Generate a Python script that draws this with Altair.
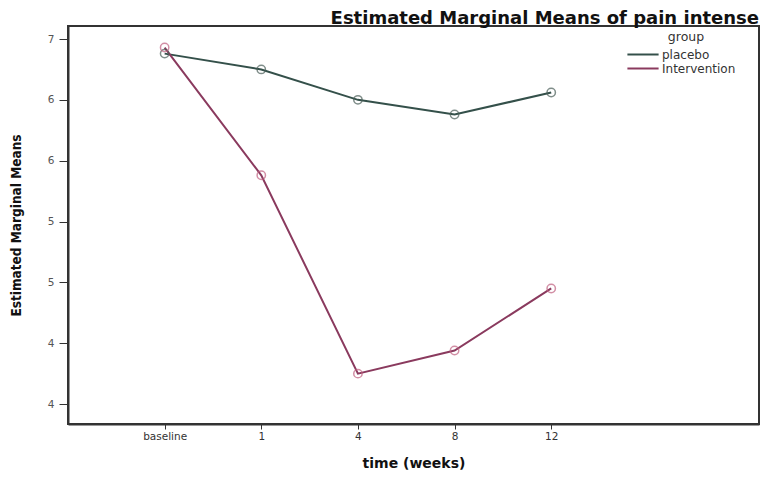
import altair as alt
import pandas as pd

time_labels = ["baseline", "1", "4", "8", "12"]
placebo = [6.88, 6.75, 6.50, 6.38, 6.56]
intervention = [6.93, 5.88, 4.25, 4.44, 4.95]
groups = ["placebo", "Intervention"]

rows = []
for i, lab in enumerate(time_labels):
    rows.append({"idx": i, "time": lab, "group": groups[0], "mean": placebo[i]})
    rows.append({"idx": i, "time": lab, "group": groups[1], "mean": intervention[i]})
df = pd.DataFrame(rows)

label_expr = "[" + ",".join("'%s'" % t for t in time_labels) + "][datum.value]"

x = alt.X("idx:Q", title="time (weeks)",
          scale=alt.Scale(domain=[-1, 6.15], nice=False, zero=False),
          axis=alt.Axis(values=list(range(5)), labelExpr=label_expr, grid=False,
                        tickColor="#333", domainColor="#333", domainWidth=2,
                        tickSize=5, labelColor="#333", labelFont="DejaVu Sans",
                        labelFontSize=10.5, titleFont="DejaVu Sans", titleFontSize=14,
                        titleFontWeight="bold", titleColor="#111", titlePadding=15))
y = alt.Y("mean:Q", title="Estimated Marginal Means",
          scale=alt.Scale(domain=[3.836, 7.107], nice=False, zero=False),
          axis=alt.Axis(values=[4, 4.5, 5, 5.5, 6, 6.5, 7], labelExpr="floor(datum.value)",
                        grid=False, tickColor="#333", domainColor="#333", domainWidth=2,
                        tickSize=9, labelPadding=5, labelColor="#555",
                        labelFont="DejaVu Sans", labelFontSize=10.5,
                        titleFont="DejaVu Sans Condensed, Liberation Sans",
                        titleFontSize=13.5, titleFontWeight="bold", titleColor="#111",
                        titlePadding=24))
color = alt.Color("group:N", scale=alt.Scale(domain=groups, range=["#34504a", "#8a3a5e"]),
                  legend=alt.Legend(title="group", orient="none", legendX=568, legendY=5,
                                    symbolType="M-2.6,0H2.6", symbolStrokeWidth=2,
                                    symbolSize=144,
                                    titleAnchor="middle",
                                    titleFont="DejaVu Sans", titleFontSize=12.5,
                                    titleFontWeight="normal", titleColor="#333",
                                    labelFont="DejaVu Sans", labelFontSize=12,
                                    labelColor="#333", rowPadding=1, titlePadding=4,
                                    labelOffset=12))

lines = alt.Chart(df).mark_line(strokeWidth=2).encode(x=x, y=y, color=color,
                                                       order="idx:Q")
pts = alt.Chart(df).mark_point(shape="circle", size=70, strokeWidth=1.5, filled=False).encode(
    x=x, y=y,
    stroke=alt.Stroke("group:N", scale=alt.Scale(domain=groups, range=["#4a5e58", "#c06080"]),
                      legend=None))

chart = alt.layer(lines, pts).properties(
    width=691, height=398,
    autosize=alt.AutoSizeParams(type="none"),
    padding={"left": 60, "top": 18, "right": 5, "bottom": 46},
    title=alt.TitleParams("Estimated Marginal Means of pain intense", anchor="end",
                          frame="group",
                          font="DejaVu Sans", fontSize=18, fontWeight="bold",
                          color="#111", offset=-2),
).configure_view(stroke="#333", strokeWidth=2)

chart.save("out.html", embed_options={"renderer": "svg", "actions": False})
